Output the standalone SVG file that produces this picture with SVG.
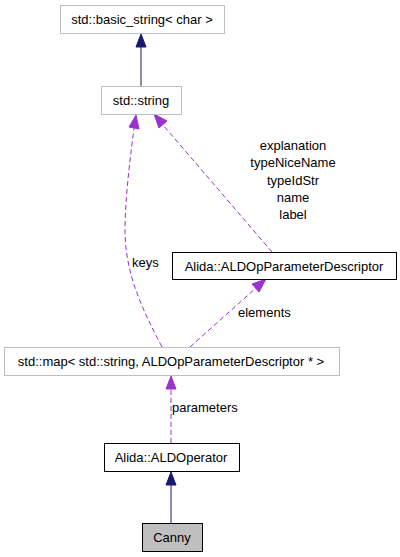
<svg xmlns="http://www.w3.org/2000/svg" width="400" height="557" viewBox="0 0 400 557">
<style>
text{font-family:"Liberation Sans",Arial,sans-serif;font-size:13px;fill:#000}
.n text{text-anchor:middle}
.gray{fill:#fff;stroke:#bfbfbf;stroke-width:1}
.blk{fill:#fff;stroke:#000;stroke-width:1}
.sel{fill:#bfbfbf;stroke:#000;stroke-width:1}
.inh{fill:none;stroke:#191970;stroke-width:1}
.use{fill:none;stroke:#9a32cd;stroke-width:1;stroke-dasharray:5,3}
.ahn{fill:#191970;stroke:#191970}
.ahp{fill:#9a32cd;stroke:#9a32cd}
.lbl{text-anchor:middle}
</style>
<rect width="400" height="557" fill="#fff"/>
<g id="connectors">
<path class="inh" d="M141,86 V47"/>
<polygon class="ahn" points="141,34 136,47 146,47"/>
<path class="inh" d="M171,523 V485"/>
<polygon class="ahn" points="171,472 166,485 176,485"/>
<path class="use" d="M171,443 V389"/>
<polygon class="ahp" points="171,376 166,389 176,389"/>
<path class="use" d="M162,347 C140,305 124,270 125,225 C126,190 130,160 134,128"/>
<polygon class="ahp" points="136,115 129,127 139,129"/>
<path class="use" d="M272,252 L163,125"/>
<polygon class="ahp" points="154,114 159,128 167,121"/>
<path class="use" d="M190,347 L256,288"/>
<polygon class="ahp" points="266,279 252,284 259,292"/>
<text class="lbl" x="293" y="150">explanation</text>
<text class="lbl" x="293" y="167">typeNiceName</text>
<text class="lbl" x="293" y="185">typeIdStr</text>
<text class="lbl" x="293" y="202">name</text>
<text class="lbl" x="293" y="219">label</text>
<text x="132" y="267">keys</text>
<text x="238" y="317">elements</text>
<text x="172" y="412">parameters</text>
</g>
<g id="node-basic_string" class="n">
<rect class="gray" x="60.5" y="5.5" width="164" height="28"/>
<text x="142" y="24">std::basic_string&lt; char &gt;</text>
</g>
<g id="node-string" class="n">
<rect class="gray" x="101.5" y="86.5" width="80" height="28"/>
<text x="141" y="105">std::string</text>
</g>
<g id="node-descriptor" class="n">
<rect class="blk" x="172.5" y="252.5" width="224" height="27"/>
<text x="284" y="271">Alida::ALDOpParameterDescriptor</text>
</g>
<g id="node-map" class="n">
<rect class="gray" x="4.5" y="347.5" width="335" height="28"/>
<text x="171" y="366">std::map&lt; std::string, ALDOpParameterDescriptor * &gt;</text>
</g>
<g id="node-operator" class="n">
<rect class="blk" x="104.5" y="443.5" width="135" height="28"/>
<text x="171" y="462">Alida::ALDOperator</text>
</g>
<g id="node-canny" class="n">
<rect class="sel" x="142.5" y="523.5" width="60" height="28"/>
<text x="172" y="542">Canny</text>
</g>
</svg>
